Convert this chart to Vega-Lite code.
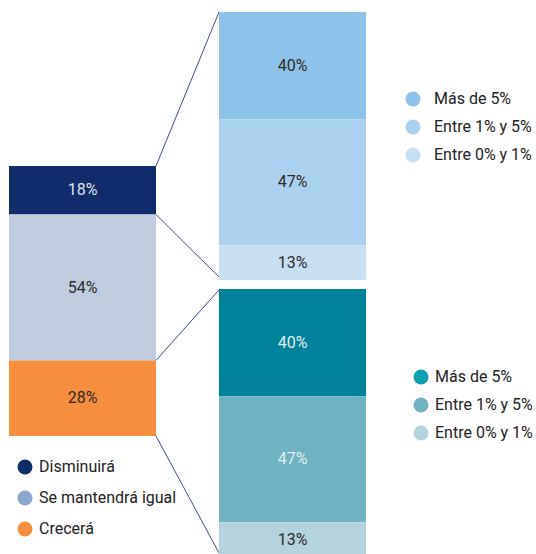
{
  "$schema": "https://vega.github.io/schema/vega-lite/v6.json",
  "width": 536,
  "height": 554,
  "autosize": {"type": "none"},
  "padding": 0,
  "background": "white",
  "config": {
    "view": {"stroke": null},
    "text": {"font": "Roboto", "fontSize": 16},
    "legend": {
      "orient": "none",
      "title": null,
      "symbolType": "circle",
      "symbolSize": 225,
      "symbolStrokeWidth": 0,
      "symbolOpacity": 1,
      "labelFont": "Roboto",
      "labelFontSize": 16,
      "labelColor": "#222222",
      "padding": 0
    }
  },
  "datasets": {
    "valores": [
      {"grupo": "Total", "columna": "Total", "segmento": "Disminuirá", "orden": 3, "valor": 0.18},
      {"grupo": "Total", "columna": "Total", "segmento": "Se mantendrá igual", "orden": 2, "valor": 0.54},
      {"grupo": "Total", "columna": "Total", "segmento": "Crecerá", "orden": 1, "valor": 0.28},
      {"grupo": "Disminuirá", "columna": "Detalle", "segmento": "Más de 5%", "orden": 3, "valor": 0.40},
      {"grupo": "Disminuirá", "columna": "Detalle", "segmento": "Entre 1% y 5%", "orden": 2, "valor": 0.47},
      {"grupo": "Disminuirá", "columna": "Detalle", "segmento": "Entre 0% y 1%", "orden": 1, "valor": 0.13},
      {"grupo": "Crecerá", "columna": "Detalle", "segmento": "Más de 5%", "orden": 3, "valor": 0.40},
      {"grupo": "Crecerá", "columna": "Detalle", "segmento": "Entre 1% y 5%", "orden": 2, "valor": 0.47},
      {"grupo": "Crecerá", "columna": "Detalle", "segmento": "Entre 0% y 1%", "orden": 1, "valor": 0.13}
    ],
    "conectores": [
      {"desde_col": "Total", "hasta_col": "Detalle", "desde": 1.00, "hasta": 1.570},
      {"desde_col": "Total", "hasta_col": "Detalle", "desde": 0.82, "hasta": 0.589},
      {"desde_col": "Total", "hasta_col": "Detalle", "desde": 0.28, "hasta": 0.541},
      {"desde_col": "Total", "hasta_col": "Detalle", "desde": 0.00, "hasta": -0.433}
    ]
  },
  "resolve": {
    "scale": {"y": "independent", "color": "independent", "fill": "independent"},
    "legend": {"color": "independent", "fill": "independent"}
  },
  "layer": [
    {
      "layer": [
        {
          "data": {"name": "valores"},
          "transform": [
            {"filter": "datum.grupo === 'Total'"},
            {"stack": "valor", "groupby": ["grupo"], "sort": [{"field": "orden", "order": "ascending"}], "as": ["v0", "v1"]},
            {"fold": ["v0", "v1"], "as": ["extremo", "pos"]},
            {"aggregate": [{"op": "mean", "field": "pos", "as": "medio"}], "groupby": ["grupo", "columna", "segmento"]}
          ],
          "mark": {"type": "circle", "size": 10},
          "encoding": {
            "x": {"field": "columna", "type": "nominal", "axis": null, "scale": {"domain": ["Total", "Detalle"], "range": [9, 366], "paddingInner": 0.3, "paddingOuter": 0}},
            "y": {"field": "medio", "type": "quantitative", "axis": null, "scale": {"domain": [-0.437, 1.6148], "nice": false, "zero": false}},
            "color": {
              "field": "segmento",
              "type": "nominal",
              "scale": {"domain": ["Disminuirá", "Se mantendrá igual", "Crecerá"], "range": ["#0f2d6b", "#8aa5cf", "#f68e3d"]},
              "legend": {"legendX": 17, "legendY": 459, "rowPadding": 15, "labelOffset": 6, "symbolSize": 225}
            }
          }
        },
        {
          "data": {"name": "valores"},
          "transform": [
            {"filter": "datum.grupo === 'Total'"},
            {"stack": "valor", "groupby": ["grupo"], "sort": [{"field": "orden", "order": "ascending"}], "as": ["v0", "v1"]}
          ],
          "mark": {"type": "bar"},
          "encoding": {
            "x": {"field": "columna", "type": "nominal", "axis": null, "scale": {"domain": ["Total", "Detalle"], "range": [9, 366], "paddingInner": 0.3, "paddingOuter": 0}},
            "y": {"field": "v0", "type": "quantitative", "axis": null},
            "y2": {"field": "v1"},
            "fill": {
              "field": "segmento",
              "type": "nominal",
              "scale": {"domain": ["Disminuirá", "Se mantendrá igual", "Crecerá"], "range": ["#0f2d6b", "#c0cde0", "#f68e3d"]},
              "legend": null
            }
          }
        },
        {
          "data": {"name": "valores"},
          "transform": [
            {"filter": "datum.grupo === 'Total'"},
            {"stack": "valor", "groupby": ["grupo"], "sort": [{"field": "orden", "order": "ascending"}], "as": ["v0", "v1"]},
            {"fold": ["v0", "v1"], "as": ["extremo", "pos"]},
            {"aggregate": [{"op": "mean", "field": "pos", "as": "medio"}, {"op": "max", "field": "valor", "as": "valor"}], "groupby": ["grupo", "columna", "segmento"]}
          ],
          "mark": {"type": "text", "align": "center", "baseline": "middle"},
          "encoding": {
            "x": {"field": "columna", "type": "nominal", "axis": null, "scale": {"domain": ["Total", "Detalle"], "range": [9, 366], "paddingInner": 0.3, "paddingOuter": 0}},
            "y": {"field": "medio", "type": "quantitative", "axis": null},
            "text": {"field": "valor", "type": "quantitative", "format": ".0%"},
            "fill": {"condition": {"test": "datum.segmento === 'Disminuirá'", "value": "#dfe3ee"}, "value": "#2b2b2b"}
          }
        },
        {
          "data": {"name": "conectores"},
          "mark": {"type": "rule", "color": "#3a4f8a", "strokeWidth": 1},
          "encoding": {
            "x": {"field": "desde_col", "type": "nominal", "bandPosition": 1, "axis": null, "scale": {"domain": ["Total", "Detalle"], "range": [9, 366], "paddingInner": 0.3, "paddingOuter": 0}},
            "x2": {"field": "hasta_col", "bandPosition": 0},
            "y": {"field": "desde", "type": "quantitative", "axis": null},
            "y2": {"field": "hasta"}
          }
        }
      ]
    },
    {
      "layer": [
        {
          "data": {"name": "valores"},
          "transform": [
            {"filter": "datum.grupo === 'Disminuirá'"},
            {"stack": "valor", "groupby": ["grupo"], "sort": [{"field": "orden", "order": "ascending"}], "as": ["v0", "v1"]}
          ],
          "mark": {"type": "bar"},
          "encoding": {
            "x": {"field": "columna", "type": "nominal", "axis": null, "scale": {"domain": ["Total", "Detalle"], "range": [9, 366], "paddingInner": 0.3, "paddingOuter": 0}},
            "y": {"field": "v0", "type": "quantitative", "axis": null, "scale": {"domain": [-1.0224, 1.0448], "nice": false, "zero": false}},
            "y2": {"field": "v1"},
            "color": {
              "field": "segmento",
              "type": "nominal",
              "scale": {"domain": ["Más de 5%", "Entre 1% y 5%", "Entre 0% y 1%"], "range": ["#8dc3ea", "#abd1f0", "#c7dff3"]},
              "legend": {"legendX": 405, "legendY": 91, "rowPadding": 12, "labelOffset": 13, "symbolSize": 225}
            }
          }
        },
        {
          "data": {"name": "valores"},
          "transform": [
            {"filter": "datum.grupo === 'Disminuirá'"},
            {"stack": "valor", "groupby": ["grupo"], "sort": [{"field": "orden", "order": "ascending"}], "as": ["v0", "v1"]},
            {"fold": ["v0", "v1"], "as": ["extremo", "pos"]},
            {"aggregate": [{"op": "mean", "field": "pos", "as": "medio"}, {"op": "max", "field": "valor", "as": "valor"}], "groupby": ["grupo", "columna", "segmento"]}
          ],
          "mark": {"type": "text", "align": "center", "baseline": "middle", "fill": "#2b2b2b"},
          "encoding": {
            "x": {"field": "columna", "type": "nominal", "axis": null, "scale": {"domain": ["Total", "Detalle"], "range": [9, 366], "paddingInner": 0.3, "paddingOuter": 0}},
            "y": {"field": "medio", "type": "quantitative", "axis": null},
            "text": {"field": "valor", "type": "quantitative", "format": ".0%"}
          }
        }
      ]
    },
    {
      "layer": [
        {
          "data": {"name": "valores"},
          "transform": [
            {"filter": "datum.grupo === 'Crecerá'"},
            {"stack": "valor", "groupby": ["grupo"], "sort": [{"field": "orden", "order": "ascending"}], "as": ["v0", "v1"]},
            {"fold": ["v0", "v1"], "as": ["extremo", "pos"]},
            {"aggregate": [{"op": "mean", "field": "pos", "as": "medio"}], "groupby": ["grupo", "columna", "segmento"]}
          ],
          "mark": {"type": "circle", "size": 10},
          "encoding": {
            "x": {"field": "columna", "type": "nominal", "axis": null, "scale": {"domain": ["Total", "Detalle"], "range": [9, 366], "paddingInner": 0.3, "paddingOuter": 0}},
            "y": {"field": "medio", "type": "quantitative", "axis": null, "scale": {"domain": [0.0112, 2.0784], "nice": false, "zero": false}},
            "color": {
              "field": "segmento",
              "type": "nominal",
              "scale": {"domain": ["Más de 5%", "Entre 1% y 5%", "Entre 0% y 1%"], "range": ["#0a9fb3", "#6fb2c3", "#b3d3de"]},
              "legend": {"legendX": 413, "legendY": 369, "rowPadding": 12, "labelOffset": 6, "symbolSize": 225}
            }
          }
        },
        {
          "data": {"name": "valores"},
          "transform": [
            {"filter": "datum.grupo === 'Crecerá'"},
            {"stack": "valor", "groupby": ["grupo"], "sort": [{"field": "orden", "order": "ascending"}], "as": ["v0", "v1"]}
          ],
          "mark": {"type": "bar"},
          "encoding": {
            "x": {"field": "columna", "type": "nominal", "axis": null, "scale": {"domain": ["Total", "Detalle"], "range": [9, 366], "paddingInner": 0.3, "paddingOuter": 0}},
            "y": {"field": "v0", "type": "quantitative", "axis": null},
            "y2": {"field": "v1"},
            "fill": {
              "field": "segmento",
              "type": "nominal",
              "scale": {"domain": ["Más de 5%", "Entre 1% y 5%", "Entre 0% y 1%"], "range": ["#00829a", "#6fb2c3", "#b3d3de"]},
              "legend": null
            }
          }
        },
        {
          "data": {"name": "valores"},
          "transform": [
            {"filter": "datum.grupo === 'Crecerá'"},
            {"stack": "valor", "groupby": ["grupo"], "sort": [{"field": "orden", "order": "ascending"}], "as": ["v0", "v1"]},
            {"fold": ["v0", "v1"], "as": ["extremo", "pos"]},
            {"aggregate": [{"op": "mean", "field": "pos", "as": "medio"}, {"op": "max", "field": "valor", "as": "valor"}], "groupby": ["grupo", "columna", "segmento"]}
          ],
          "mark": {"type": "text", "align": "center", "baseline": "middle"},
          "encoding": {
            "x": {"field": "columna", "type": "nominal", "axis": null, "scale": {"domain": ["Total", "Detalle"], "range": [9, 366], "paddingInner": 0.3, "paddingOuter": 0}},
            "y": {"field": "medio", "type": "quantitative", "axis": null},
            "text": {"field": "valor", "type": "quantitative", "format": ".0%"},
            "fill": {"condition": {"test": "datum.segmento !== 'Entre 0% y 1%'", "value": "#e6eef2"}, "value": "#2b2b2b"}
          }
        }
      ]
    }
  ]
}
